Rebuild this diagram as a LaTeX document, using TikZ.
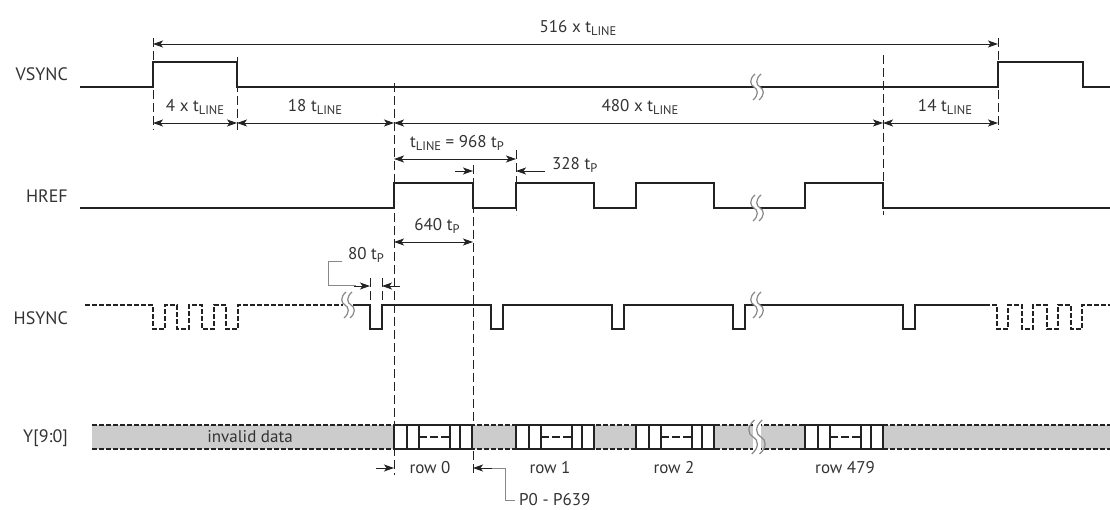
\documentclass[tikz,border=0pt]{standalone}
\usepackage{fontspec}
\setmainfont{PT Sans}
\usetikzlibrary{arrows.meta}
\definecolor{txt}{HTML}{333333}
\definecolor{sig}{HTML}{222222}
\definecolor{busfill}{HTML}{CCCCCC}
\definecolor{leader}{HTML}{888888}
\newcommand\tsub[2]{#1\raisebox{-0.4ex}{\fontsize{12.5}{12.5}\selectfont #2}}
\begin{document}
\begin{tikzpicture}[x=1pt,y=-1pt,
  lbl/.style={text=txt,font=\fontsize{18}{20}\selectfont,inner sep=0pt},
  dimlbl/.style={text=txt,font=\fontsize{17}{19}\selectfont,inner sep=0pt},
  sigline/.style={draw=sig,line width=2pt,line join=miter},
  sigdash/.style={draw=sig,line width=1.8pt,dash pattern=on 5pt off 2pt},
  guide/.style={draw=sig,line width=0.8pt,dash pattern=on 9pt off 4pt},
  dimboth/.style={draw=sig,line width=0.9pt,{Stealth[length=10pt,width=7pt,inset=2.5pt]}-{Stealth[length=10pt,width=7pt,inset=2.5pt]}},
  dimone/.style={draw=sig,line width=0.9pt,-{Stealth[length=10pt,width=7pt,inset=2.5pt]}},
  leadline/.style={draw=leader,line width=1pt},
  blk/.style={draw=sig,line width=1.6pt,fill=white},
  brk/.pic={
    \fill[white] (-3,-13) rectangle (3,13);
    \foreach \dx in {-3,3}{
      \draw[leader,line width=1.2pt,xshift=\dx] (1,-13) .. controls (-5,-8) and (-4,-2) .. (0,0) .. controls (4,2) and (5,8) .. (-1,13);
    }
  }]
\useasboundingbox (0,0) rectangle (1110,510);

% ---------- labels ----------
\node[lbl,anchor=east] (vs) at (68,74) {VSYNC};
\node[lbl,anchor=east] (hr) at (68,196) {HREF};
\node[lbl,anchor=east] (hs) at (68,318) {HSYNC};
\node[lbl,anchor=east] (yb) at (68,438) {Y[9:0]};

% ---------- guide lines ----------
\draw[guide] (153,38) -- (153,130);
\draw[guide] (237,57) -- (237,130);
\draw[guide] (394,83) -- (394,475);
\draw[guide] (473,165) -- (473,475);
\draw[guide] (516,150) -- (516,215);
\draw[guide] (883,55) -- (883,215);
\draw[guide] (998,38) -- (998,130);
\draw[guide] (370,278) -- (370,305);
\draw[guide] (382,278) -- (382,305);

% ---------- VSYNC ----------
\draw[sigline] (80,87) -- (153,87) -- (153,62) -- (237,62) -- (237,87) -- (998,87) -- (998,62) -- (1083,62) -- (1083,87) -- (1110,87);
\pic at (757,87) {brk};

\coordinate (d0) at (153,44); \coordinate (d1) at (998,44);
\draw[dimboth] (d0) -- (d1);
\node[dimlbl] (l516) at (578,28) {516 x \tsub{t}{LINE}};

\coordinate (a0) at (153,123); \coordinate (a1) at (237,123);
\coordinate (a2) at (394,123); \coordinate (a3) at (883,123);
\coordinate (a4) at (998,123);
\draw[dimboth] (a0) -- (a1);
\draw[dimboth] (a1) -- (a2);
\draw[dimboth] (a2) -- (a3);
\draw[dimboth] (a3) -- (a4);
\node[dimlbl] (l4) at (195,107) {4 x \tsub{t}{LINE}};
\node[dimlbl] (l18) at (315,107) {18 \tsub{t}{LINE}};
\node[dimlbl] (l480) at (640,107) {480 x \tsub{t}{LINE}};
\node[dimlbl] (l14) at (945,107) {14 \tsub{t}{LINE}};

% ---------- HREF ----------
\draw[sigline] (80,208) -- (394,208) -- (394,183) -- (473,183) -- (473,208) -- (516,208) -- (516,183) -- (594,183) -- (594,208) -- (636,208) -- (636,183) -- (714,183) -- (714,208) -- (805,208) -- (805,183) -- (883,183) -- (883,208) -- (1110,208);
\pic at (757,208) {brk};

\coordinate (h0) at (394,159); \coordinate (h1) at (516,159);
\draw[dimboth] (h0) -- (h1);
\node[dimlbl] (ltl) at (457,143) {\tsub{t}{LINE} = 968 \tsub{t}{P}};
\coordinate (h2) at (545,171);
\draw[dimone] (h2) -- (516,171);
\node[dimlbl,anchor=west] (l328) at (552,165) {328 \tsub{t}{P}};
\coordinate (h3) at (455,171);
\draw[dimone] (h3) -- (473,171);
\coordinate (h4) at (394,242); \coordinate (h5) at (473,242);
\draw[dimboth] (h4) -- (h5);
\node[dimlbl] (l640) at (437,226) {640 \tsub{t}{P}};

% ---------- HSYNC ----------
\draw[sigdash] (85,305) -- (153,305) -- (153,329) -- (165,329) -- (165,305) -- (177,305) -- (177,329) -- (189,329) -- (189,305) -- (202,305) -- (202,329) -- (214,329) -- (214,305) -- (226,305) -- (226,329) -- (238,329) -- (238,305) -- (343,305);
\pic at (348,305) {brk};
\draw[sigline] (353,305) -- (370,305) -- (370,329) -- (382,329) -- (382,305) -- (491,305) -- (491,329) -- (503,329) -- (503,305) -- (612,305) -- (612,329) -- (624,329) -- (624,305) -- (733,305) -- (733,329) -- (745,329) -- (745,305) -- (903,305) -- (903,329) -- (915,329) -- (915,305) -- (990,305);
\pic at (757,305) {brk};
\draw[sigdash] (992,305) -- (997,305) -- (997,329) -- (1008,329) -- (1008,305) -- (1022,305) -- (1022,329) -- (1033,329) -- (1033,305) -- (1047,305) -- (1047,329) -- (1058,329) -- (1058,305) -- (1071,305) -- (1071,329) -- (1082,329) -- (1082,305) -- (1110,305);

\node[dimlbl] (l80) at (366,255) {80 \tsub{t}{P}};
\draw[leadline] (342,262) -- (328,262) -- (328,286) -- (356,286);
\coordinate (s0) at (354,286);
\draw[dimone] (s0) -- (370,286);
\coordinate (s1) at (400,286);
\draw[dimone] (s1) -- (382,286);

% ---------- Y[9:0] bus ----------
\fill[busfill] (92,425) rectangle (1110,449);
\draw[sigdash,line width=1.2pt] (92,425) -- (1110,425);
\draw[sigdash,line width=1.2pt] (92,449) -- (1110,449);
\node[dimlbl] (inv) at (250,437) {invalid data};
\foreach \bx in {394,516,636,805}{
  \draw[blk] (\bx,425) rectangle ++(78,24);
  \draw[draw=sig,line width=1.6pt] (\bx+13,425) -- (\bx+13,449)
    (\bx+25,425) -- (\bx+25,449)
    (\bx+56,425) -- (\bx+56,449)
    (\bx+66,425) -- (\bx+66,449);
  \draw[draw=sig,line width=1.2pt,dash pattern=on 8pt off 3pt] (\bx+25,437) -- (\bx+56,437);
}
\pic[scale=1.3] at (757,437) {brk};

\node[dimlbl] (r0) at (430,468) {row 0};
\node[dimlbl] (r1) at (550,468) {row 1};
\node[dimlbl] (r2) at (674,468) {row 2};
\node[dimlbl] (r479) at (845,468) {row 479};
\coordinate (b0) at (376,468);
\draw[dimone] (b0) -- (394,468);
\coordinate (b1) at (492,468);
\draw[dimone] (b1) -- (473,468);
\draw[leadline] (b1) -- (505,468) -- (505,500) -- (515,500);
\node[dimlbl,anchor=west] (pp) at (519,500) {P0 - P639};
\end{tikzpicture}
\end{document}
